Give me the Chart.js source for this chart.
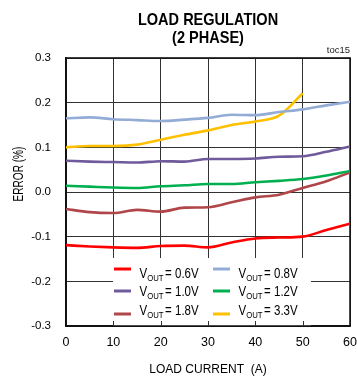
<!DOCTYPE html>
<html>
<head>
<meta charset="utf-8">
<script src="https://cdn.jsdelivr.net/npm/chart.js@4.4.1/dist/chart.umd.min.js"></script>
<style>
  html, body { margin: 0; padding: 0; background: #fff; }
</style>
</head>
<body>
<canvas id="chart" width="357" height="379"></canvas>
<script>
// Load current in amps, sampled every 5 A
const loadCurrent = [0, 5, 10, 15, 20, 25, 30, 35, 40, 45, 50, 55, 60];

// Output error (%) for each output voltage setting
const vout06 = [-0.119, -0.122, -0.124, -0.125, -0.121, -0.120, -0.124, -0.113, -0.104, -0.102, -0.100, -0.085, -0.071];
const vout08 = [0.165, 0.167, 0.163, 0.161, 0.159, 0.162, 0.166, 0.173, 0.172, 0.179, 0.185, 0.194, 0.202];
const vout10 = [0.070, 0.068, 0.067, 0.066, 0.069, 0.068, 0.074, 0.074, 0.075, 0.079, 0.080, 0.090, 0.102];
const vout12 = [0.014, 0.012, 0.010, 0.009, 0.013, 0.015, 0.018, 0.018, 0.022, 0.025, 0.029, 0.037, 0.047];
const vout18 = [-0.038, -0.045, -0.047, -0.040, -0.044, -0.035, -0.034, -0.023, -0.012, -0.006, 0.009, 0.024, 0.044];
const vout33 = [0.100, 0.103, 0.103, 0.106, 0.117, 0.128, 0.138, 0.150, 0.158, 0.171, 0.221];

const voutLabels = ['0.6V', '0.8V', '1.0V', '1.2V', '1.8V', '3.3V'];

// Axis ticks
const xTicks = [0, 10, 20, 30, 40, 50, 60];
const yTicks = [-0.3, -0.2, -0.1, 0.0, 0.1, 0.2, 0.3];

const chartTitle = ['LOAD REGULATION', '(2 PHASE)'];
const xTitle = 'LOAD CURRENT  (A)';
const yTitle = 'ERROR (%)';
const figureId = 'toc15';

const FONT = "'Liberation Sans', Arial, Helvetica, sans-serif";

const toPoints = vals => vals.map((v, i) => ({ x: loadCurrent[i], y: v }));

const seriesValues = [vout06, vout08, vout10, vout12, vout18, vout33];
const seriesColors = ['#ff0000', '#93acd6', '#6f5a9c', '#00b050', '#b0464a', '#ffc000'];

const datasets = seriesValues.map((vals, i) => ({
  label: voutLabels[i],
  data: toPoints(vals),
  borderColor: seriesColors[i],
  backgroundColor: seriesColors[i],
  borderWidth: 2.6,
  pointRadius: 0,
  tension: 0.4,
  cubicInterpolationMode: 'monotone',
  fill: false
}));

// Draws text squeezed horizontally, giving a condensed face
function condensedText(ctx, text, x, y, font, squeeze, align) {
  ctx.save();
  ctx.font = font;
  ctx.textBaseline = 'alphabetic';
  ctx.textAlign = 'left';
  const w = ctx.measureText(text).width * squeeze;
  const startX = align === 'center' ? x - w / 2 : align === 'right' ? x - w : x;
  ctx.translate(startX, y);
  ctx.scale(squeeze, 1);
  ctx.fillText(text, 0, 0);
  ctx.restore();
  return w;
}

// Frame around the plotting area, drawn beneath the curves
const plotFrame = {
  id: 'plotFrame',
  beforeDatasetsDraw(chart) {
    const { ctx, chartArea: a } = chart;
    ctx.save();
    ctx.strokeStyle = '#111';
    ctx.lineWidth = 1.6;
    ctx.strokeRect(a.left, a.top, a.right - a.left, a.bottom - a.top);
    ctx.restore();
  }
};

// Boxed legend inside the lower part of the plot, with subscripted V_OUT
const voutLegend = {
  id: 'voutLegend',
  afterDatasetsDraw(chart) {
    const { ctx, chartArea: a, scales } = chart;
    const left = a.left + 47, right = a.left + 245;
    const top = a.bottom - 68, bottom = a.bottom;
    ctx.save();
    ctx.fillStyle = '#fff';
    ctx.fillRect(left, top, right - left, bottom - top);

    // restore the axis line and inner tick marks under the box
    ctx.strokeStyle = '#111';
    ctx.lineWidth = 1.6;
    ctx.beginPath();
    ctx.moveTo(left - 1, bottom);
    ctx.lineTo(right + 1, bottom);
    ctx.stroke();
    ctx.strokeStyle = '#333';
    ctx.lineWidth = 1;
    xTicks.forEach(t => {
      const px = Math.round(scales.x.getPixelForValue(t)) + 0.5;
      if (px >= left - 1 && px <= right + 1) {
        ctx.beginPath();
        ctx.moveTo(px, bottom);
        ctx.lineTo(px, bottom - 5);
        ctx.stroke();
      }
    });

    const textBase = [top + 20, top + 38, top + 56.5];
    const swatchY = [top + 11, top + 33, top + 56];
    chart.data.datasets.forEach((ds, i) => {
      const col = i % 2, row = Math.floor(i / 2);
      const sx = left + 1 + col * 99;
      ctx.strokeStyle = ds.borderColor;
      ctx.lineWidth = 3;
      ctx.beginPath();
      ctx.moveTo(sx, swatchY[row]);
      ctx.lineTo(sx + 17, swatchY[row]);
      ctx.stroke();

      ctx.fillStyle = '#000';
      let tx = sx + 25.5;
      const by = textBase[row];
      tx += condensedText(ctx, 'V', tx, by, '14px ' + FONT, 0.82, 'left');
      tx += condensedText(ctx, 'OUT', tx, by + 3.3, '9.5px ' + FONT, 0.82, 'left') + 1.5;
      condensedText(ctx, '= ' + ds.label, tx, by, '14px ' + FONT, 0.82, 'left');
    });
    ctx.restore();
  }
};

// Chart heading, vertical axis caption and figure tag
const annotations = {
  id: 'annotations',
  afterDraw(chart) {
    const { ctx, chartArea: a } = chart;
    const cx = (a.left + a.right) / 2;
    ctx.save();
    ctx.fillStyle = '#000';
    condensedText(ctx, chartTitle[0], cx, 25, 'bold 17px ' + FONT, 0.855, 'center');
    condensedText(ctx, chartTitle[1], cx, 43, 'bold 17px ' + FONT, 0.855, 'center');

    ctx.fillStyle = '#222';
    condensedText(ctx, figureId, a.right, a.top - 5, '9.5px ' + FONT, 1, 'right');

    ctx.fillStyle = '#000';
    ctx.save();
    ctx.translate(22.5, 174);
    ctx.rotate(-Math.PI / 2);
    condensedText(ctx, yTitle, 0, 0, '14px ' + FONT, 0.72, 'center');
    ctx.restore();
    ctx.restore();
  }
};

new Chart(document.getElementById('chart'), {
  type: 'line',
  data: { datasets },
  options: {
    responsive: false,
    animation: false,
    layout: { padding: { top: 58, right: 1 } },
    plugins: {
      legend: { display: false },
      tooltip: { enabled: false },
      title: { display: false }
    },
    scales: {
      x: {
        type: 'linear',
        min: 0,
        max: 60,
        afterBuildTicks: s => { s.ticks = xTicks.map(v => ({ value: v })); },
        afterFit: s => { s.height = 53; },
        ticks: {
          color: '#000',
          font: { family: FONT, size: 12.5 },
          padding: 0,
          maxRotation: 0
        },
        grid: { color: '#333', lineWidth: 1, drawTicks: true, tickLength: 9, tickColor: 'transparent' },
        border: { color: '#111', width: 1.6 },
        title: {
          display: true,
          text: xTitle,
          color: '#000',
          font: { family: FONT, size: 12 },
          padding: { top: 0, bottom: 2 }
        }
      },
      y: {
        min: -0.3,
        max: 0.3,
        afterBuildTicks: s => { s.ticks = yTicks.map(v => ({ value: v })); },
        afterFit: s => { s.width = 66; },
        ticks: {
          color: '#000',
          font: { family: FONT, size: 11.5 },
          padding: 15,
          callback: v => (Math.abs(v) < 1e-9 ? 0 : v).toFixed(1)
        },
        grid: { color: '#333', lineWidth: 1, drawTicks: false },
        border: { color: '#111', width: 1.6 },
        title: { display: false }
      }
    }
  },
  plugins: [plotFrame, voutLegend, annotations]
});
</script>
</body>
</html>
